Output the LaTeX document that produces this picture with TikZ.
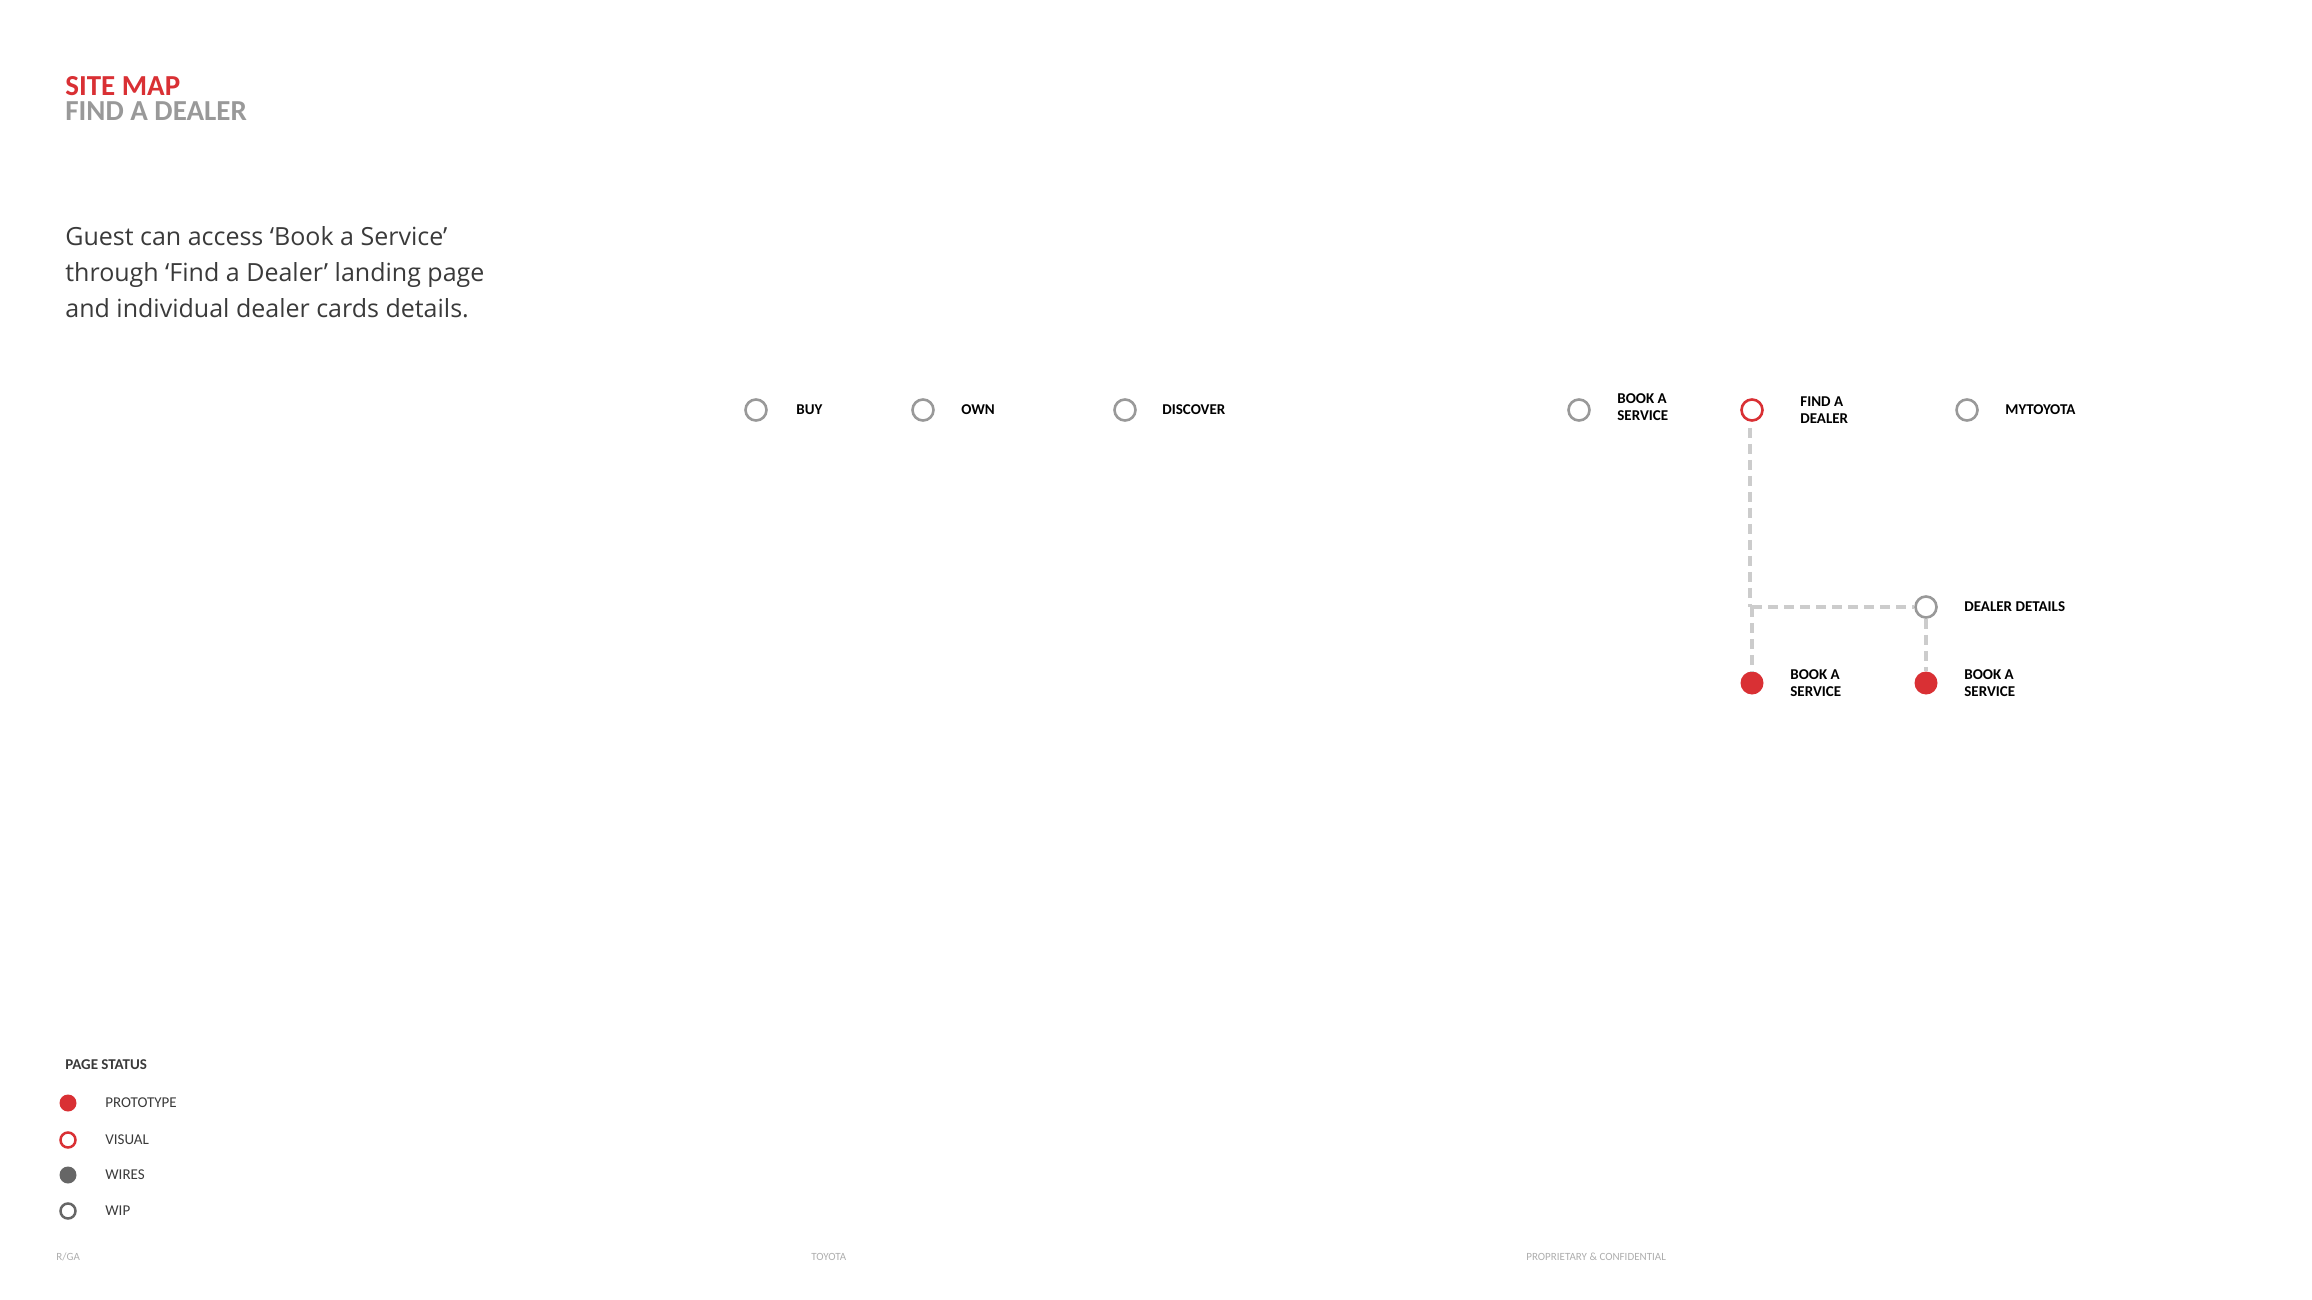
\documentclass[tikz,border=0pt]{standalone}
\usepackage{fontspec}
\setmainfont{Carlito}
\newfontfamily\parafont{Open Sans}
\usetikzlibrary{positioning}

\definecolor{tred}{RGB}{217,48,52}
\definecolor{tgray}{RGB}{153,153,153}
\definecolor{tdash}{RGB}{204,204,204}
\definecolor{tdark}{RGB}{102,102,102}
\definecolor{ttext}{RGB}{58,58,58}

\tikzset{every picture/.style={line width=0.75pt}}
\tikzset{
  wip/.style={circle,draw=tgray,line width=2.6pt,minimum size=21pt,inner sep=0pt},
  visual/.style={circle,draw=tred,line width=2.6pt,minimum size=21pt,inner sep=0pt},
  proto/.style={circle,fill=tred,minimum size=23pt,inner sep=0pt},
  navlbl/.style={anchor=west,inner sep=0pt,align=left,font=\fontsize{15}{16.5}\selectfont\bfseries},
  link/.style={draw=tdash,line width=3.5pt,dash pattern=on 10pt off 6pt},
  keylbl/.style={anchor=west,inner sep=0pt,text=ttext,font=\fontsize{15}{17}\selectfont},
  foot/.style={anchor=west,inner sep=0pt,text=tgray!80,font=\fontsize{11}{12}\selectfont}
}

\begin{document}
\begin{tikzpicture}[x=1pt,y=1pt,yscale=-1,xscale=1]
		\useasboundingbox (0,0) rectangle (2312,1300);
		
		%Title
		\node [anchor=north west,inner sep=0pt,align=left,font=\fontsize{29}{25.5}\selectfont\bfseries] (title) at (65,76) {\textcolor{tred}{SITE MAP}\\\textcolor{tgray}{FIND A DEALER}};
		\node [anchor=base west,inner sep=0pt,text=ttext,font=\parafont\fontsize{25}{36}\selectfont] (para1) at (65,245) {Guest can access ‘Book a Service’};
		\node [anchor=base west,inner sep=0pt,text=ttext,font=\parafont\fontsize{25}{36}\selectfont] (para2) at (65,281) {through ‘Find a Dealer’ landing page};
		\node [anchor=base west,inner sep=0pt,text=ttext,font=\parafont\fontsize{25}{36}\selectfont] (para3) at (65,317) {and individual dealer cards details.};
		
		%Top level
		\node [wip] (buy) at (756,410) {};
		\node [wip] (own) at (923,410) {};
		\node [wip] (discover) at (1125,410) {};
		\node [wip] (booktop) at (1579,410) {};
		\node [visual] (dealer) at (1752,410) {};
		\node [wip] (mytoyota) at (1967,410) {};
		
		%Second level
		\node [wip] (details) at (1926,607) {};
		\node [proto] (bookl) at (1752,683) {};
		\node [proto] (bookr) at (1926,683) {};
		\coordinate (joint) at (1752,607);
		
		%Links
		\draw [link] ([xshift=-2pt,yshift=6pt]dealer.south) -- ([xshift=-2pt]joint);
		\draw [link] (joint) -- (bookl.north);
		\draw [link] (joint) -- (details.west);
		\draw [link] (details.south) -- (bookr.north);
		
		\node [navlbl] (buylbl) at (796,410) {BUY};
		\node [navlbl] (ownlbl) at (961,410) {OWN};
		\node [navlbl] (discoverlbl) at (1162,410) {DISCOVER};
		\node [navlbl] (booktoplbl) at (1617,407) {BOOK A\\SERVICE};
		\node [navlbl] (dealerlbl) at (1800,410) {FIND A\\DEALER};
		\node [navlbl] (mytoyotalbl) at (2005,410) {MYTOYOTA};
		\node [navlbl] (detailslbl) at (1964,607) {DEALER DETAILS};
		\node [navlbl] (booklbl) at (1790,683) {BOOK A\\SERVICE};
		\node [navlbl] (bookrlbl) at (1964,683) {BOOK A\\SERVICE};
		
		%Legend
		\node [anchor=west,inner sep=0pt,text=ttext,font=\fontsize{15}{17}\selectfont\bfseries] (status) at (65,1065) {PAGE STATUS};
		\node [circle,fill=tred,minimum size=17pt,inner sep=0pt] (kproto) at (68,1103) {};
		\node [circle,draw=tred,line width=2.5pt,minimum size=15pt,inner sep=0pt] (kvisual) at (68,1140) {};
		\node [circle,fill=tdark,minimum size=17pt,inner sep=0pt] (kwires) at (68,1175) {};
		\node [circle,draw=tdark,line width=2.5pt,minimum size=15pt,inner sep=0pt] (kwip) at (68,1211) {};
		\node [keylbl] (kprotolbl) at (105,1103) {PROTOTYPE};
		\node [keylbl] (kvisuallbl) at (105,1140) {VISUAL};
		\node [keylbl] (kwireslbl) at (105,1175) {WIRES};
		\node [keylbl] (kwiplbl) at (105,1211) {WIP};
		
		%Footer
		\node [foot] (rga) at (56,1257) {R/GA};
		\node [foot] (toyota) at (811,1257) {TOYOTA};
		\node [foot] (conf) at (1526,1257) {PROPRIETARY \& CONFIDENTIAL};
		
	\end{tikzpicture}
\end{document}
